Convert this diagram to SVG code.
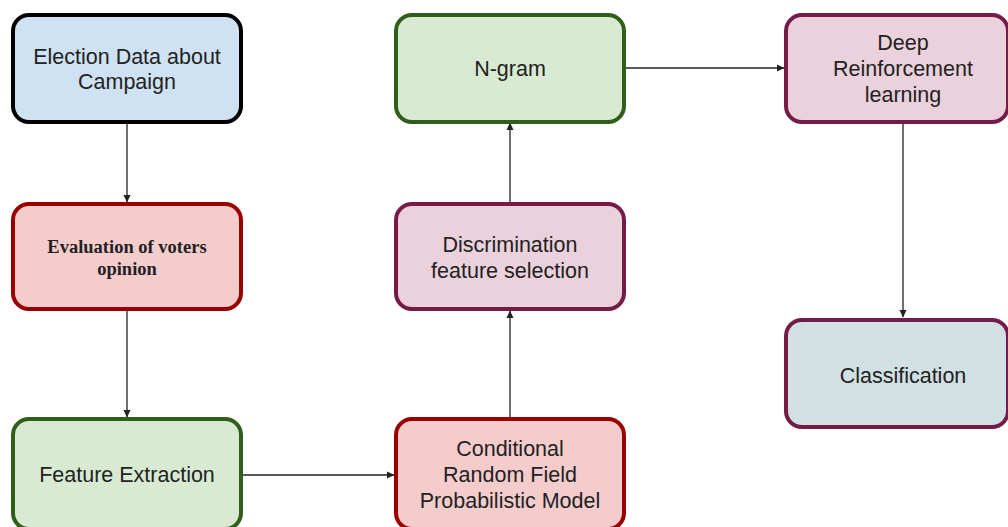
<svg xmlns="http://www.w3.org/2000/svg" width="1008" height="527" viewBox="0 0 1008 527">
<style>
.box{stroke-width:4}
.t{font-family:"Liberation Sans",Arial,sans-serif;font-size:21.5px;fill:#222;text-anchor:middle}
.tb{font-family:"Liberation Serif","Times New Roman",serif;font-size:18.5px;font-weight:bold;fill:#222;text-anchor:middle}
.c{stroke:#222;stroke-width:1.3;fill:none;marker-end:url(#ah)}
</style>
<defs>
<marker id="ah" markerWidth="8" markerHeight="8" refX="7" refY="4" orient="auto" markerUnits="userSpaceOnUse">
<path d="M0,0.5 L7.5,4 L0,7.5 Z" fill="#222"/>
</marker>
</defs>
<rect width="1008" height="527" fill="#fff"/>
<g id="connectors">
<line class="c" x1="127" y1="123" x2="127" y2="202"/>
<line class="c" x1="127" y1="310" x2="127" y2="417"/>
<line class="c" x1="243" y1="475" x2="394" y2="475"/>
<line class="c" x1="510" y1="418" x2="510" y2="311"/>
<line class="c" x1="510" y1="203" x2="510" y2="123"/>
<line class="c" x1="625" y1="68" x2="784" y2="68"/>
<line class="c" x1="903" y1="123" x2="903" y2="317"/>
</g>
<g id="n1">
<rect class="box" x="13" y="15" width="228" height="107" rx="16" fill="#cfe2f3" stroke="#000"/>
<text class="t" x="127" y="64">Election Data about</text>
<text class="t" x="127" y="89">Campaign</text>
</g>
<g id="n2">
<rect class="box" x="13" y="204" width="228" height="105" rx="16" fill="#f4cccc" stroke="#990000"/>
<text class="tb" x="127" y="253">Evaluation of voters</text>
<text class="tb" x="127" y="275">opinion</text>
</g>
<g id="n3">
<rect class="box" x="13" y="419" width="228" height="110" rx="16" fill="#d9ead3" stroke="#2f5f1a"/>
<text class="t" x="127" y="482">Feature Extraction</text>
</g>
<g id="n4">
<rect class="box" x="396" y="419" width="228" height="110" rx="16" fill="#f4cccc" stroke="#990000"/>
<text class="t" x="510" y="456">Conditional</text>
<text class="t" x="510" y="482">Random Field</text>
<text class="t" x="510" y="508">Probabilistic Model</text>
</g>
<g id="n5">
<rect class="box" x="396" y="204" width="228" height="105" rx="16" fill="#ead1dc" stroke="#741b47"/>
<text class="t" x="510" y="252">Discrimination</text>
<text class="t" x="510" y="278">feature selection</text>
</g>
<g id="n6">
<rect class="box" x="396" y="15" width="228" height="107" rx="16" fill="#d9ead3" stroke="#2f5f1a"/>
<text class="t" x="510" y="76">N-gram</text>
</g>
<g id="n7">
<rect class="box" x="786" y="15" width="222" height="107" rx="16" fill="#ead1dc" stroke="#741b47"/>
<text class="t" x="903" y="50">Deep</text>
<text class="t" x="903" y="76">Reinforcement</text>
<text class="t" x="903" y="102">learning</text>
</g>
<g id="n8">
<rect class="box" x="786" y="320" width="222" height="107" rx="16" fill="#d0e0e3" stroke="#741b47"/>
<text class="t" x="903" y="383">Classification</text>
</g>
</svg>
